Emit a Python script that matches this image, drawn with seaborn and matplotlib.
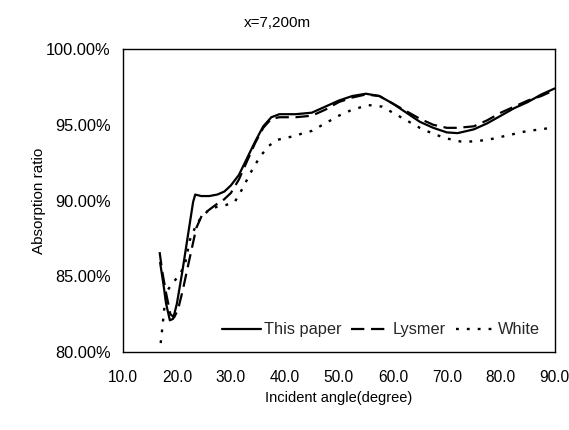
import matplotlib
matplotlib.use("Agg")
import matplotlib.pyplot as plt
import seaborn as sns
import pandas as pd
from matplotlib.ticker import FuncFormatter

title = "x=7,200m"
series_names = ["This paper", "Lysmer", "White"]

x_paper = [16.9, 17.5, 18.0, 18.7, 19.3, 20.0, 21.0, 22.0, 23.0, 23.4, 24.5, 26.0, 27.5,
           28.8, 30.0, 31.5, 33.0, 34.5, 36.0, 37.5, 39.0, 42.0, 45.0, 47.5, 50.0, 52.5,
           55.0, 57.5, 60.0, 62.5, 65.0, 67.5, 70.0, 72.0, 75.0, 77.5, 80.0, 82.5, 85.0,
           87.5, 90.0]
y_paper = [85.9, 84.5, 83.2, 82.1, 82.2, 83.2, 85.3, 87.6, 89.9, 90.4, 90.3, 90.3, 90.4,
           90.6, 91.0, 91.7, 92.8, 93.9, 94.9, 95.5, 95.7, 95.7, 95.8, 96.2, 96.6, 96.9,
           97.05, 96.9, 96.4, 95.8, 95.2, 94.8, 94.5, 94.45, 94.7, 95.1, 95.6, 96.1, 96.5,
           97.0, 97.4]

x_lysmer = [16.8, 17.3, 18.0, 18.8, 19.5, 20.2, 21.1, 22.0, 22.8, 23.6, 24.6, 26.0, 27.5,
            28.5, 30.0, 31.5, 33.0, 34.5, 36.0, 37.5, 39.0, 42.0, 45.0, 47.5, 50.0, 52.5,
            55.0, 57.5, 60.0, 62.5, 65.0, 67.5, 70.0, 72.0, 75.0, 77.5, 80.0, 82.5, 85.0,
            87.5, 90.0]
y_lysmer = [86.6, 85.3, 83.9, 82.5, 82.3, 82.8, 84.1, 85.6, 86.9, 88.2, 89.0, 89.4, 89.8,
            90.0, 90.5, 91.4, 92.6, 93.8, 94.8, 95.4, 95.5, 95.5, 95.6, 96.0, 96.5, 96.8,
            97.0, 96.9, 96.4, 95.9, 95.4, 95.0, 94.8, 94.8, 94.9, 95.3, 95.8, 96.2, 96.6,
            96.9, 97.3]

x_white = [17.0, 17.3, 17.7, 18.3, 19.3, 20.5, 21.5, 22.4, 23.7, 24.8, 26.0, 27.5, 29.0,
           30.7, 32.0, 33.9, 35.4, 37.0, 38.5, 41.0, 45.0, 47.5, 50.0, 52.5, 55.5, 58.0,
           60.0, 62.5, 65.0, 67.5, 70.0, 72.5, 74.5, 77.5, 80.0, 82.5, 85.0, 87.5, 90.0]
y_white = [80.6, 81.6, 83.0, 84.1, 84.6, 85.1, 85.8, 87.4, 88.5, 89.0, 89.4, 89.6, 89.7,
           89.9, 90.7, 92.0, 92.9, 93.6, 94.0, 94.2, 94.6, 95.1, 95.6, 96.0, 96.3, 96.2,
           95.8, 95.3, 94.8, 94.4, 94.1, 93.9, 93.9, 94.0, 94.2, 94.4, 94.6, 94.7, 94.85]

x_ticks = [10.0, 20.0, 30.0, 40.0, 50.0, 60.0, 70.0, 80.0, 90.0]
y_ticks = [80.0, 85.0, 90.0, 95.0, 100.0]

sns.set_theme(style="white")
plt.rcParams["font.family"] = ["Liberation Sans", "DejaVu Sans"]

fig = plt.figure(figsize=(5.69, 4.30), dpi=100)
ax = fig.add_axes([0.216, 0.181, 0.759, 0.705])

styles = {
    "This paper": dict(linestyle="-", linewidth=1.6),
    "Lysmer": dict(linestyle=(0, (6, 3)), linewidth=1.6),
    "White": dict(linestyle=(0, (1.2, 3.4)), linewidth=1.7),
}
data = {
    "This paper": (x_paper, y_paper),
    "Lysmer": (x_lysmer, y_lysmer),
    "White": (x_white, y_white),
}
for name in series_names:
    xs, ys = data[name]
    df = pd.DataFrame({"x": xs, "y": ys})
    sns.lineplot(data=df, x="x", y="y", ax=ax, color="black", label=name,
                 sort=False, **styles[name])

ax.set_xlim(10, 90)
ax.set_ylim(80, 100)
ax.set_xticks(x_ticks)
ax.set_yticks(y_ticks)
ax.xaxis.set_major_formatter(FuncFormatter(lambda v, p: f"{v:.1f}"))
ax.yaxis.set_major_formatter(FuncFormatter(lambda v, p: f"{v:.2f}%"))
ax.tick_params(axis="both", length=0, colors="black")
ax.tick_params(axis="x", pad=13, labelsize=11.2)
ax.tick_params(axis="y", pad=9, labelsize=11.8)
for s in ax.spines.values():
    s.set_color("black")
    s.set_linewidth(1.0)

ax.set_xlabel("Incident angle(degree)", fontsize=10.5, color="black", labelpad=4)
ax.set_ylabel("Absorption ratio", fontsize=11, color="black")
ax.yaxis.set_label_coords(-0.178, 0.5)
ax.set_title(title, fontsize=11, color="black", pad=16, x=0.357)

ax.legend(loc="lower left", bbox_to_anchor=(0.195, 0.0), ncol=3, frameon=False,
          fontsize=11.8, handlelength=2.4, columnspacing=0.6, handletextpad=0.15)

fig.savefig("out.png", dpi=100)
